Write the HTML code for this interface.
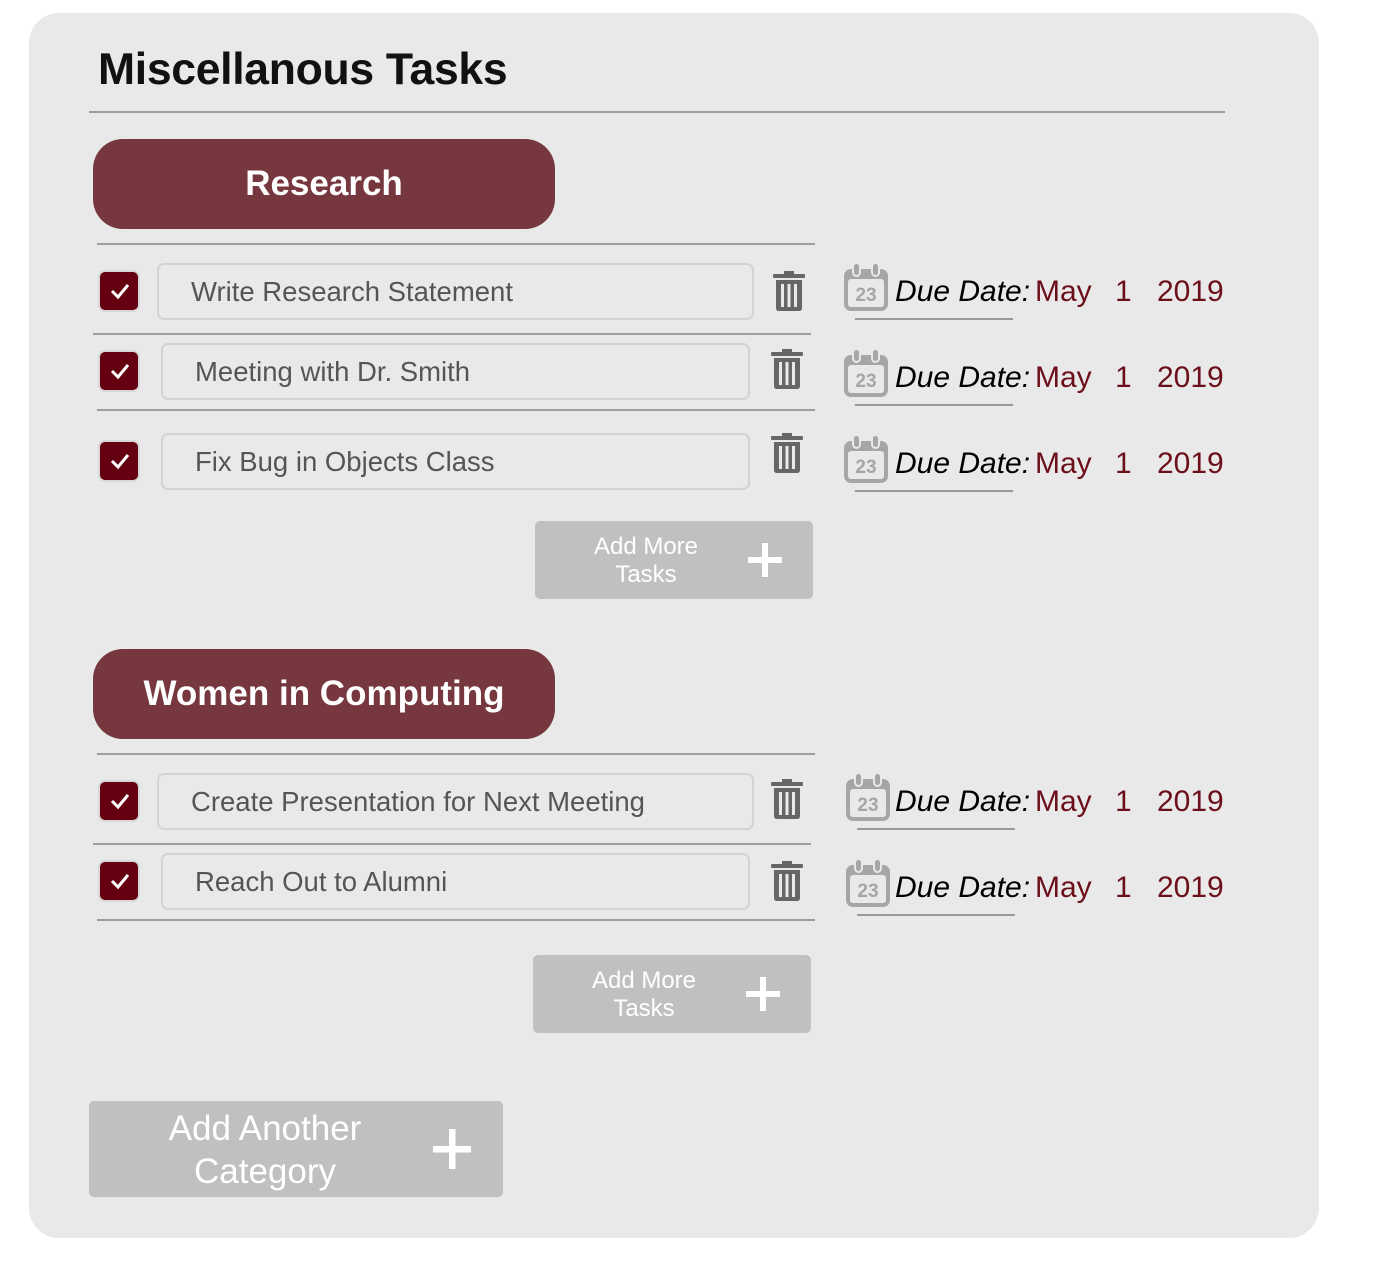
<!DOCTYPE html>
<html><head><meta charset="utf-8"><style>
*{margin:0;padding:0;box-sizing:border-box}
body{width:1374px;height:1284px;background:#fff;position:relative;font-family:"Liberation Sans",Arial,sans-serif;overflow:hidden}
.a{position:absolute}
.card{left:29px;top:13px;width:1290px;height:1225px;background:#e9e9e9;border-radius:30px}
.hr{position:absolute;height:2px;background:#9e9e9e}
.cat{position:absolute;left:93px;width:462px;height:90px;background:#76383e;border-radius:30px;color:#fff;font-weight:bold;font-size:35px;display:flex;align-items:center;justify-content:center}
.cb{position:absolute;width:42px;height:42px;background:#650010;border:2px solid #d8d8d8;border-radius:7px}
.cb svg{position:absolute;left:9px;top:10px}
.in{position:absolute;height:57px;border:2px solid #d3d3d3;border-radius:7px;font-size:27.5px;color:#555;padding-left:32px;line-height:53px}
.tr{position:absolute;width:32px;height:40px}
.due{position:absolute;left:843px;height:50px;width:400px}
.due .t{position:absolute;left:52px;top:12px;font-size:30px;font-style:italic;color:#000}
.due .m{position:absolute;top:12px;font-size:30px;color:#6b0f1a}
.due .u{position:absolute;left:12px;top:55px;width:158px;height:2px;background:#999}
.add{position:absolute;width:278px;height:78px;background:#c0c0c0;border-radius:5px;color:#fff}
.add .l{position:absolute;left:0;width:222px;top:12px;text-align:center;font-size:24px;line-height:28px}
.add .p{position:absolute;left:213px;top:22px}
</style></head><body>
<div class="a card"></div>
<div class="a" style="left:98px;top:45px;font-size:44.5px;font-weight:bold;color:#111;letter-spacing:-0.3px">Miscellanous Tasks</div>
<div class="hr" style="left:89px;top:111px;width:1136px"></div>

<div class="cat" style="top:139px">Research</div>
<div class="hr" style="left:97px;top:243px;width:718px"></div>
<div class="hr" style="left:93px;top:333px;width:718px"></div>
<div class="hr" style="left:97px;top:409px;width:718px"></div>

<div class="cat" style="top:649px">Women in Computing</div>
<div class="hr" style="left:97px;top:753px;width:718px"></div>
<div class="hr" style="left:93px;top:843px;width:718px"></div>
<div class="hr" style="left:97px;top:919px;width:718px"></div>

<div class="cb" style="left:98px;top:270px"><svg width="22" height="18"><path d="M3 9 L9 15 L19 3" stroke="#fff" stroke-width="3" fill="none"/></svg></div>
<div class="in" style="left:157px;top:263px;width:597px">Write Research Statement</div>
<div class="cb" style="left:98px;top:350px"><svg width="22" height="18"><path d="M3 9 L9 15 L19 3" stroke="#fff" stroke-width="3" fill="none"/></svg></div>
<div class="in" style="left:161px;top:343px;width:589px">Meeting with Dr. Smith</div>
<div class="cb" style="left:98px;top:440px"><svg width="22" height="18"><path d="M3 9 L9 15 L19 3" stroke="#fff" stroke-width="3" fill="none"/></svg></div>
<div class="in" style="left:161px;top:433px;width:589px">Fix Bug in Objects Class</div>
<div class="cb" style="left:98px;top:780px"><svg width="22" height="18"><path d="M3 9 L9 15 L19 3" stroke="#fff" stroke-width="3" fill="none"/></svg></div>
<div class="in" style="left:157px;top:773px;width:597px">Create Presentation for Next Meeting</div>
<div class="cb" style="left:98px;top:860px"><svg width="22" height="18"><path d="M3 9 L9 15 L19 3" stroke="#fff" stroke-width="3" fill="none"/></svg></div>
<div class="in" style="left:161px;top:853px;width:589px">Reach Out to Alumni</div>

<svg class="tr" style="left:773px;top:271px" viewBox="0 0 32 40"><rect x="0" y="3" width="32" height="4" rx="1" fill="#666"/><rect x="11" y="0" width="10" height="4" fill="#666"/><path d="M3 9 H29 V37 Q29 40 26 40 H6 Q3 40 3 37Z" fill="#666"/><rect x="8" y="13" width="3" height="23" fill="#e9e9e9"/><rect x="14.5" y="13" width="3" height="23" fill="#e9e9e9"/><rect x="21" y="13" width="3" height="23" fill="#e9e9e9"/></svg>
<svg class="tr" style="left:771px;top:349px" viewBox="0 0 32 40"><rect x="0" y="3" width="32" height="4" rx="1" fill="#666"/><rect x="11" y="0" width="10" height="4" fill="#666"/><path d="M3 9 H29 V37 Q29 40 26 40 H6 Q3 40 3 37Z" fill="#666"/><rect x="8" y="13" width="3" height="23" fill="#e9e9e9"/><rect x="14.5" y="13" width="3" height="23" fill="#e9e9e9"/><rect x="21" y="13" width="3" height="23" fill="#e9e9e9"/></svg>
<svg class="tr" style="left:771px;top:433px" viewBox="0 0 32 40"><rect x="0" y="3" width="32" height="4" rx="1" fill="#666"/><rect x="11" y="0" width="10" height="4" fill="#666"/><path d="M3 9 H29 V37 Q29 40 26 40 H6 Q3 40 3 37Z" fill="#666"/><rect x="8" y="13" width="3" height="23" fill="#e9e9e9"/><rect x="14.5" y="13" width="3" height="23" fill="#e9e9e9"/><rect x="21" y="13" width="3" height="23" fill="#e9e9e9"/></svg>
<svg class="tr" style="left:771px;top:779px" viewBox="0 0 32 40"><rect x="0" y="3" width="32" height="4" rx="1" fill="#666"/><rect x="11" y="0" width="10" height="4" fill="#666"/><path d="M3 9 H29 V37 Q29 40 26 40 H6 Q3 40 3 37Z" fill="#666"/><rect x="8" y="13" width="3" height="23" fill="#e9e9e9"/><rect x="14.5" y="13" width="3" height="23" fill="#e9e9e9"/><rect x="21" y="13" width="3" height="23" fill="#e9e9e9"/></svg>
<svg class="tr" style="left:771px;top:861px" viewBox="0 0 32 40"><rect x="0" y="3" width="32" height="4" rx="1" fill="#666"/><rect x="11" y="0" width="10" height="4" fill="#666"/><path d="M3 9 H29 V37 Q29 40 26 40 H6 Q3 40 3 37Z" fill="#666"/><rect x="8" y="13" width="3" height="23" fill="#e9e9e9"/><rect x="14.5" y="13" width="3" height="23" fill="#e9e9e9"/><rect x="21" y="13" width="3" height="23" fill="#e9e9e9"/></svg>

<div class="due" style="top:263px"><svg class="a" style="left:0;top:0" width="46" height="48" viewBox="0 0 46 48"><rect x="1" y="6" width="44" height="42" rx="7" fill="#a6a6a6"/><rect x="5" y="16" width="36" height="28" rx="3" fill="#e9e9e9"/><rect x="10" y="0" width="7" height="13" rx="3.5" fill="#a6a6a6" stroke="#e9e9e9" stroke-width="2"/><rect x="29" y="0" width="7" height="13" rx="3.5" fill="#a6a6a6" stroke="#e9e9e9" stroke-width="2"/><text x="23" y="38" font-size="19" font-weight="bold" fill="#a6a6a6" text-anchor="middle" font-family="Liberation Sans">23</text></svg><span class="t">Due Date:</span><span class="m" style="left:192px">May</span><span class="m" style="left:272px">1</span><span class="m" style="left:314px">2019</span><div class="u"></div></div>
<div class="due" style="top:349px"><svg class="a" style="left:0;top:0" width="46" height="48" viewBox="0 0 46 48"><rect x="1" y="6" width="44" height="42" rx="7" fill="#a6a6a6"/><rect x="5" y="16" width="36" height="28" rx="3" fill="#e9e9e9"/><rect x="10" y="0" width="7" height="13" rx="3.5" fill="#a6a6a6" stroke="#e9e9e9" stroke-width="2"/><rect x="29" y="0" width="7" height="13" rx="3.5" fill="#a6a6a6" stroke="#e9e9e9" stroke-width="2"/><text x="23" y="38" font-size="19" font-weight="bold" fill="#a6a6a6" text-anchor="middle" font-family="Liberation Sans">23</text></svg><span class="t">Due Date:</span><span class="m" style="left:192px">May</span><span class="m" style="left:272px">1</span><span class="m" style="left:314px">2019</span><div class="u"></div></div>
<div class="due" style="top:435px"><svg class="a" style="left:0;top:0" width="46" height="48" viewBox="0 0 46 48"><rect x="1" y="6" width="44" height="42" rx="7" fill="#a6a6a6"/><rect x="5" y="16" width="36" height="28" rx="3" fill="#e9e9e9"/><rect x="10" y="0" width="7" height="13" rx="3.5" fill="#a6a6a6" stroke="#e9e9e9" stroke-width="2"/><rect x="29" y="0" width="7" height="13" rx="3.5" fill="#a6a6a6" stroke="#e9e9e9" stroke-width="2"/><text x="23" y="38" font-size="19" font-weight="bold" fill="#a6a6a6" text-anchor="middle" font-family="Liberation Sans">23</text></svg><span class="t">Due Date:</span><span class="m" style="left:192px">May</span><span class="m" style="left:272px">1</span><span class="m" style="left:314px">2019</span><div class="u"></div></div>
<div class="due" style="top:773px"><svg class="a" style="left:2px;top:0" width="46" height="48" viewBox="0 0 46 48"><rect x="1" y="6" width="44" height="42" rx="7" fill="#a6a6a6"/><rect x="5" y="16" width="36" height="28" rx="3" fill="#e9e9e9"/><rect x="10" y="0" width="7" height="13" rx="3.5" fill="#a6a6a6" stroke="#e9e9e9" stroke-width="2"/><rect x="29" y="0" width="7" height="13" rx="3.5" fill="#a6a6a6" stroke="#e9e9e9" stroke-width="2"/><text x="23" y="38" font-size="19" font-weight="bold" fill="#a6a6a6" text-anchor="middle" font-family="Liberation Sans">23</text></svg><span class="t">Due Date:</span><span class="m" style="left:192px">May</span><span class="m" style="left:272px">1</span><span class="m" style="left:314px">2019</span><div class="u" style="left:14px"></div></div>
<div class="due" style="top:859px"><svg class="a" style="left:2px;top:0" width="46" height="48" viewBox="0 0 46 48"><rect x="1" y="6" width="44" height="42" rx="7" fill="#a6a6a6"/><rect x="5" y="16" width="36" height="28" rx="3" fill="#e9e9e9"/><rect x="10" y="0" width="7" height="13" rx="3.5" fill="#a6a6a6" stroke="#e9e9e9" stroke-width="2"/><rect x="29" y="0" width="7" height="13" rx="3.5" fill="#a6a6a6" stroke="#e9e9e9" stroke-width="2"/><text x="23" y="38" font-size="19" font-weight="bold" fill="#a6a6a6" text-anchor="middle" font-family="Liberation Sans">23</text></svg><span class="t">Due Date:</span><span class="m" style="left:192px">May</span><span class="m" style="left:272px">1</span><span class="m" style="left:314px">2019</span><div class="u" style="left:14px"></div></div>

<div class="add" style="left:535px;top:521px"><div class="l">Add More<br>Tasks</div><svg class="p" width="34" height="34"><rect x="14" y="0" width="6" height="34" fill="#fff"/><rect x="0" y="14" width="34" height="6" fill="#fff"/></svg></div>
<div class="add" style="left:533px;top:955px"><div class="l">Add More<br>Tasks</div><svg class="p" width="34" height="34"><rect x="14" y="0" width="6" height="34" fill="#fff"/><rect x="0" y="14" width="34" height="6" fill="#fff"/></svg></div>

<div class="a" style="left:89px;top:1101px;width:414px;height:96px;background:#c0c0c0;border-radius:5px;color:#fff">
<div class="a" style="left:0;width:352px;top:6px;text-align:center;font-size:35px;line-height:43px">Add Another<br>Category</div>
<svg class="a" style="left:344px;top:28px" width="38" height="40"><rect x="16" y="0" width="6.5" height="40" fill="#fff"/><rect x="0" y="17" width="38" height="6.5" fill="#fff"/></svg>
</div>
</body></html>
